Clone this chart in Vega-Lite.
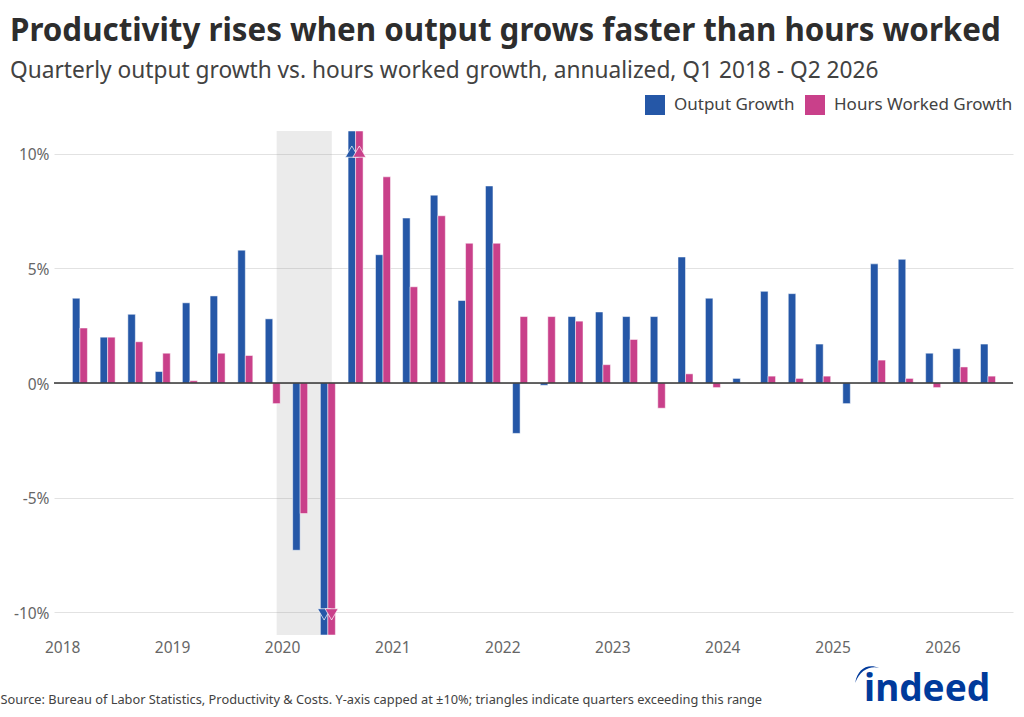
{
  "$schema": "https://vega.github.io/schema/vega-lite/v6.json",
  "autosize": {"type": "none"},
  "padding": {"left": 54, "top": 131, "right": 11, "bottom": 82},
  "width": 959,
  "height": 504,
  "background": "white",
  "config": {"view": {"stroke": null}},
  "title": {
    "text": "Productivity rises when output grows faster than hours worked",
    "subtitle": "Quarterly output growth vs. hours worked growth, annualized, Q1 2018 - Q2 2026",
    "anchor": "start",
    "frame": "group",
    "dx": -44,
    "offset": 12,
    "font": "Noto Sans",
    "fontSize": 31.3,
    "fontWeight": 700,
    "color": "#2d2d2d",
    "subtitleFont": "Noto Sans",
    "subtitleFontSize": 22.7,
    "subtitleColor": "#424242",
    "subtitlePadding": 13
  },
  "datasets": {
    "growth": [
      {"date": "2018-03-01", "series": "Output Growth", "value": 3.7},
      {"date": "2018-03-01", "series": "Hours Worked Growth", "value": 2.4},
      {"date": "2018-06-01", "series": "Output Growth", "value": 2.0},
      {"date": "2018-06-01", "series": "Hours Worked Growth", "value": 2.0},
      {"date": "2018-09-01", "series": "Output Growth", "value": 3.0},
      {"date": "2018-09-01", "series": "Hours Worked Growth", "value": 1.8},
      {"date": "2018-12-01", "series": "Output Growth", "value": 0.5},
      {"date": "2018-12-01", "series": "Hours Worked Growth", "value": 1.3},
      {"date": "2019-03-01", "series": "Output Growth", "value": 3.5},
      {"date": "2019-03-01", "series": "Hours Worked Growth", "value": 0.1},
      {"date": "2019-06-01", "series": "Output Growth", "value": 3.8},
      {"date": "2019-06-01", "series": "Hours Worked Growth", "value": 1.3},
      {"date": "2019-09-01", "series": "Output Growth", "value": 5.8},
      {"date": "2019-09-01", "series": "Hours Worked Growth", "value": 1.2},
      {"date": "2019-12-01", "series": "Output Growth", "value": 2.8},
      {"date": "2019-12-01", "series": "Hours Worked Growth", "value": -0.9},
      {"date": "2020-03-01", "series": "Output Growth", "value": -7.3},
      {"date": "2020-03-01", "series": "Hours Worked Growth", "value": -5.7},
      {"date": "2020-06-01", "series": "Output Growth", "value": -11},
      {"date": "2020-06-01", "series": "Hours Worked Growth", "value": -11},
      {"date": "2020-09-01", "series": "Output Growth", "value": 11},
      {"date": "2020-09-01", "series": "Hours Worked Growth", "value": 11},
      {"date": "2020-12-01", "series": "Output Growth", "value": 5.6},
      {"date": "2020-12-01", "series": "Hours Worked Growth", "value": 9.0},
      {"date": "2021-03-01", "series": "Output Growth", "value": 7.2},
      {"date": "2021-03-01", "series": "Hours Worked Growth", "value": 4.2},
      {"date": "2021-06-01", "series": "Output Growth", "value": 8.2},
      {"date": "2021-06-01", "series": "Hours Worked Growth", "value": 7.3},
      {"date": "2021-09-01", "series": "Output Growth", "value": 3.6},
      {"date": "2021-09-01", "series": "Hours Worked Growth", "value": 6.1},
      {"date": "2021-12-01", "series": "Output Growth", "value": 8.6},
      {"date": "2021-12-01", "series": "Hours Worked Growth", "value": 6.1},
      {"date": "2022-03-01", "series": "Output Growth", "value": -2.2},
      {"date": "2022-03-01", "series": "Hours Worked Growth", "value": 2.9},
      {"date": "2022-06-01", "series": "Output Growth", "value": -0.1},
      {"date": "2022-06-01", "series": "Hours Worked Growth", "value": 2.9},
      {"date": "2022-09-01", "series": "Output Growth", "value": 2.9},
      {"date": "2022-09-01", "series": "Hours Worked Growth", "value": 2.7},
      {"date": "2022-12-01", "series": "Output Growth", "value": 3.1},
      {"date": "2022-12-01", "series": "Hours Worked Growth", "value": 0.8},
      {"date": "2023-03-01", "series": "Output Growth", "value": 2.9},
      {"date": "2023-03-01", "series": "Hours Worked Growth", "value": 1.9},
      {"date": "2023-06-01", "series": "Output Growth", "value": 2.9},
      {"date": "2023-06-01", "series": "Hours Worked Growth", "value": -1.1},
      {"date": "2023-09-01", "series": "Output Growth", "value": 5.5},
      {"date": "2023-09-01", "series": "Hours Worked Growth", "value": 0.4},
      {"date": "2023-12-01", "series": "Output Growth", "value": 3.7},
      {"date": "2023-12-01", "series": "Hours Worked Growth", "value": -0.2},
      {"date": "2024-03-01", "series": "Output Growth", "value": 0.2},
      {"date": "2024-03-01", "series": "Hours Worked Growth", "value": 0},
      {"date": "2024-06-01", "series": "Output Growth", "value": 4.0},
      {"date": "2024-06-01", "series": "Hours Worked Growth", "value": 0.3},
      {"date": "2024-09-01", "series": "Output Growth", "value": 3.9},
      {"date": "2024-09-01", "series": "Hours Worked Growth", "value": 0.2},
      {"date": "2024-12-01", "series": "Output Growth", "value": 1.7},
      {"date": "2024-12-01", "series": "Hours Worked Growth", "value": 0.3},
      {"date": "2025-03-01", "series": "Output Growth", "value": -0.9},
      {"date": "2025-03-01", "series": "Hours Worked Growth", "value": 0},
      {"date": "2025-06-01", "series": "Output Growth", "value": 5.2},
      {"date": "2025-06-01", "series": "Hours Worked Growth", "value": 1.0},
      {"date": "2025-09-01", "series": "Output Growth", "value": 5.4},
      {"date": "2025-09-01", "series": "Hours Worked Growth", "value": 0.2},
      {"date": "2025-12-01", "series": "Output Growth", "value": 1.3},
      {"date": "2025-12-01", "series": "Hours Worked Growth", "value": -0.2},
      {"date": "2026-03-01", "series": "Output Growth", "value": 1.5},
      {"date": "2026-03-01", "series": "Hours Worked Growth", "value": 0.7},
      {"date": "2026-06-01", "series": "Output Growth", "value": 1.7},
      {"date": "2026-06-01", "series": "Hours Worked Growth", "value": 0.3}
    ],
    "capped": [
      {"date": "2020-06-01", "series": "Output Growth", "value": -10.1, "direction": "down"},
      {"date": "2020-06-01", "series": "Hours Worked Growth", "value": -10.1, "direction": "down"},
      {"date": "2020-09-01", "series": "Output Growth", "value": 10.1, "direction": "up"},
      {"date": "2020-09-01", "series": "Hours Worked Growth", "value": 10.1, "direction": "up"}
    ]
  },
  "layer": [
    {
      "data": {"values": [{"start": "2019-12-14", "end": "2020-06-14"}]},
      "mark": {"type": "rect", "color": "#999999", "opacity": 0.2},
      "encoding": {
        "x": {"field": "start", "type": "temporal"},
        "x2": {"field": "end"}
      }
    },
    {
      "data": {"name": "growth"},
      "transform": [{"filter": "datum.series == 'Output Growth'"}],
      "mark": {"type": "bar", "width": 7.5, "xOffset": -3.75, "stroke": "white", "strokeWidth": 0.5},
      "encoding": {
        "x": {
          "field": "date",
          "type": "temporal",
          "title": "Source: Bureau of Labor Statistics, Productivity & Costs. Y-axis capped at ±10%; triangles indicate quarters exceeding this range",
          "scale": {"type": "utc", "domain": ["2017-12-05", "2026-08-23"], "nice": false, "padding": 0},
          "axis": {
            "format": "%Y",
            "tickCount": {"interval": "year", "step": 1},
            "grid": false,
            "domain": false,
            "ticks": false,
            "labelFont": "Noto Sans",
            "labelFontSize": 15.5,
            "labelColor": "#666666",
            "labelPadding": 5,
            "labelOverlap": false,
            "labelFlush": false,
            "titleFont": "Noto Sans",
            "titleFontSize": 12.8,
            "titleFontWeight": 400,
            "titleColor": "#424242",
            "titleAnchor": "start",
            "titleAlign": "left",
            "titleBaseline": "alphabetic",
            "titleX": -54,
            "titleY": 68
          }
        },
        "y": {
          "field": "value",
          "type": "quantitative",
          "title": null,
          "stack": null,
          "scale": {"domain": [-11, 11], "nice": false, "zero": false},
          "axis": {
            "values": [-10, -5, 0, 5, 10],
            "labelExpr": "datum.value + '%'",
            "grid": true,
            "gridColor": "#e2e2e2",
            "domain": false,
            "ticks": false,
            "labelFont": "Noto Sans",
            "labelFontSize": 15.5,
            "labelColor": "#666666",
            "labelPadding": 5,
            "labelOffset": 1
          }
        },
        "color": {
          "field": "series",
          "type": "nominal",
          "scale": {"domain": ["Output Growth", "Hours Worked Growth"], "range": ["#2557A7", "#C9408A"]},
          "legend": {
            "title": null,
            "orient": "none",
            "direction": "horizontal",
            "legendX": 591,
            "legendY": -36,
            "symbolType": "square",
            "symbolSize": 400,
            "symbolStrokeWidth": 0,
            "labelFont": "Noto Sans",
            "labelFontSize": 17,
            "labelColor": "#424242",
            "labelOffset": 9,
            "labelLimit": 300,
            "columnPadding": 10
          }
        }
      }
    },
    {
      "data": {"name": "growth"},
      "transform": [{"filter": "datum.series == 'Hours Worked Growth'"}],
      "mark": {"type": "bar", "width": 7.5, "xOffset": 3.75, "stroke": "white", "strokeWidth": 0.5},
      "encoding": {
        "x": {"field": "date", "type": "temporal"},
        "y": {"field": "value", "type": "quantitative", "stack": null},
        "color": {"field": "series", "type": "nominal"}
      }
    },
    {
      "data": {"values": [{"value": 0}]},
      "mark": {"type": "rule", "color": "#333333", "strokeWidth": 1.5},
      "encoding": {"y": {"field": "value", "type": "quantitative"}}
    },
    {
      "data": {"name": "capped"},
      "transform": [{"filter": "datum.series == 'Output Growth'"}],
      "mark": {"type": "point", "filled": true, "opacity": 1, "size": 170, "xOffset": -3.75, "stroke": "white", "strokeWidth": 0.7},
      "encoding": {
        "x": {"field": "date", "type": "temporal"},
        "y": {"field": "value", "type": "quantitative"},
        "color": {"field": "series", "type": "nominal"},
        "shape": {
          "field": "direction",
          "type": "nominal",
          "scale": {"domain": ["up", "down"], "range": ["triangle-up", "triangle-down"]},
          "legend": null
        }
      }
    },
    {
      "data": {"name": "capped"},
      "transform": [{"filter": "datum.series == 'Hours Worked Growth'"}],
      "mark": {"type": "point", "filled": true, "opacity": 1, "size": 170, "xOffset": 3.75, "stroke": "white", "strokeWidth": 0.7},
      "encoding": {
        "x": {"field": "date", "type": "temporal"},
        "y": {"field": "value", "type": "quantitative"},
        "color": {"field": "series", "type": "nominal"},
        "shape": {"field": "direction", "type": "nominal", "legend": null}
      }
    },
    {
      "data": {"values": [{"date": "2025-11-11", "value": -13.9, "label": "indeed"}]},
      "mark": {"type": "text", "font": "Noto Sans", "fontWeight": 700, "fontSize": 37, "color": "#003A9B", "baseline": "alphabetic", "align": "center", "clip": false},
      "encoding": {
        "x": {"field": "date", "type": "temporal"},
        "y": {"field": "value", "type": "quantitative"},
        "text": {"field": "label"}
      }
    },
    {
      "data": {"values": [{"date": "2025-04-26", "value": -12.7}]},
      "mark": {
        "type": "point",
        "filled": true,
        "size": 576,
        "color": "#003A9B",
        "opacity": 1,
        "shape": "M -1 0.75 C -0.8 -0.4 0 -0.9 1 -0.5 C 0.2 -0.7 -0.6 -0.3 -1 0.75 Z"
      },
      "encoding": {
        "x": {"field": "date", "type": "temporal"},
        "y": {"field": "value", "type": "quantitative"}
      }
    }
  ]
}
